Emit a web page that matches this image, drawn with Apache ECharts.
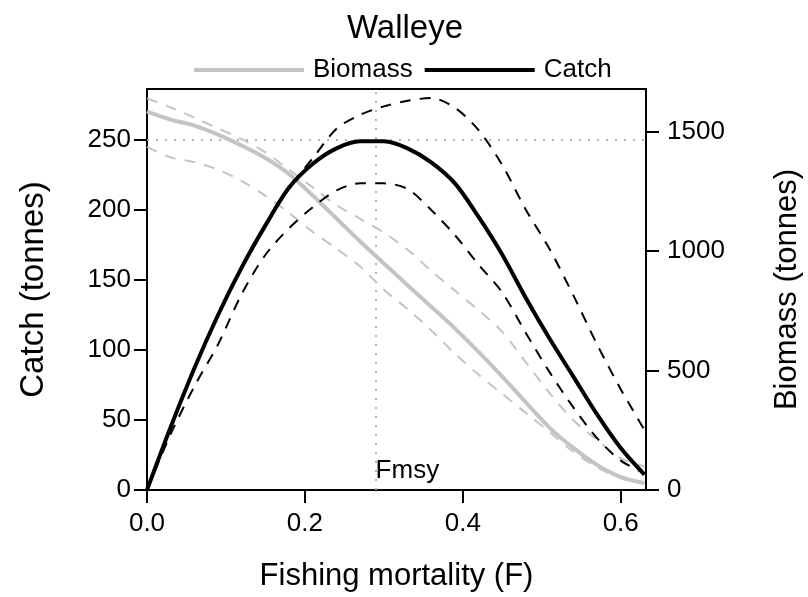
<!DOCTYPE html>
<html>
<head>
<meta charset="utf-8">
<script src="https://cdn.jsdelivr.net/npm/echarts@6/dist/echarts.min.js"></script>
<style>
  html, body { margin: 0; padding: 0; background: #fff; }
  #myChart { width: 808px; height: 597px; }
</style>
</head>
<body>
<div id="myChart"></div>
<script>
// fishing mortality grid
const fValues = [0, 0.03, 0.06, 0.09, 0.12, 0.15, 0.18, 0.21, 0.24, 0.27, 0.30,
  0.33, 0.36, 0.39, 0.42, 0.45, 0.48, 0.51, 0.54, 0.57, 0.60, 0.63]

// catch (tonnes), median and bounds
const catchMid = [0, 45, 87, 125, 159, 189, 216, 233, 244, 249, 249,
  244, 234, 219, 195, 168, 137, 108, 81, 54, 30, 11]
const catchHigh = [0, 45, 88, 126, 160, 190, 216, 237, 258, 268, 274,
  278, 280, 273, 257, 232, 200, 172, 139, 104, 72, 43]
const catchLow = [0, 40, 74, 104, 140, 168, 187, 202, 214, 219, 219,
  215, 200, 182, 161, 141, 112, 84, 59, 37, 21, 12]

// biomass (tonnes), median and bounds
const bioMid = [1583, 1550, 1525, 1487, 1441, 1389, 1322, 1232, 1136, 1040, 948,
  857, 767, 676, 578, 474, 366, 260, 176, 105, 54, 29]
const bioHigh = [1639, 1601, 1558, 1513, 1468, 1413, 1340, 1266, 1192, 1135, 1077,
  1005, 917, 834, 752, 662, 534, 405, 292, 210, 132, 98]
const bioLow = [1436, 1392, 1372, 1340, 1293, 1231, 1159, 1080, 1010, 935, 838,
  757, 668, 570, 482, 402, 322, 242, 160, 95, 50, 30]

// reference points
const fMsy = 0.287
const msy = 250

const xTicks = [0, 0.2, 0.4, 0.6]
const catchTicks = [0, 50, 100, 150, 200, 250]
const bioTicks = [0, 500, 1000, 1500]

const font = "'Liberation Sans', Arial, sans-serif"

function pairs(ys) {
  return fValues.map((f, i) => [f, ys[i]])
}

let myChart = echarts.init(document.getElementById('myChart'))

const dashed = [11, 9]
const tickStyle = { color: '#000', width: 2 }

myChart.setOption({
  animation: false,
  textStyle: { fontFamily: font, color: '#000' },
  title: {
    text: 'Walleye',
    left: 400,
    top: 7,
    textAlign: 'center',
    textStyle: { fontFamily: font, fontSize: 33, fontWeight: 'normal', color: '#000' },
  },
  legend: {
    data: ['Biomass', 'Catch'],
    top: 52,
    left: 189,
    icon: 'rect',
    itemWidth: 110,
    itemHeight: 4,
    itemGap: 12,
    textStyle: { fontFamily: font, fontSize: 26, color: '#000', padding: [0, 0, 0, 4] },
  },
  grid: {
    left: 147,
    right: 162,
    top: 89,
    bottom: 107,
    outerBoundsMode: 'none',
    show: true,
    borderColor: '#000',
    borderWidth: 2,
  },
  xAxis: {
    type: 'value',
    min: 0,
    max: 0.632,
    name: 'Fishing mortality (F)',
    nameLocation: 'middle',
    nameGap: 71,
    nameTextStyle: { fontFamily: font, fontSize: 31, color: '#000' },
    splitLine: { show: false },
    axisLine: { show: true, lineStyle: tickStyle },
    axisTick: { show: true, length: 13, lineStyle: tickStyle, customValues: xTicks },
    axisLabel: {
      fontFamily: font, fontSize: 26, color: '#000', margin: 21,
      customValues: xTicks,
      formatter: (v) => v.toFixed(1),
    },
  },
  yAxis: [
    {
      type: 'value',
      min: 0,
      max: 286.4,
      name: 'Catch (tonnes)',
      nameLocation: 'middle',
      nameGap: 97,
      nameTextStyle: { fontFamily: font, fontSize: 33, color: '#000' },
      splitLine: { show: false },
      axisLine: { show: true, lineStyle: tickStyle },
      axisTick: { show: true, length: 13, lineStyle: tickStyle, customValues: catchTicks },
      axisLabel: { fontFamily: font, fontSize: 26, color: '#000', margin: 16, customValues: catchTicks },
    },
    {
      type: 'value',
      min: 0,
      max: 1678,
      position: 'right',
      name: 'Biomass (tonnes)',
      nameLocation: 'middle',
      nameGap: 126,
      nameRotate: 90,
      nameTextStyle: { fontFamily: font, fontSize: 31, color: '#000' },
      splitLine: { show: false },
      axisLine: { show: true, lineStyle: tickStyle },
      axisTick: { show: true, length: 13, lineStyle: tickStyle, customValues: bioTicks },
      axisLabel: {
        fontFamily: font, fontSize: 26, color: '#000', margin: 21,
        customValues: bioTicks,
        formatter: (v) => String(v),
      },
    },
  ],
  series: [
    {
      name: 'Biomass',
      type: 'line',
      yAxisIndex: 1,
      data: pairs(bioMid),
      symbol: 'none',
      smooth: 0.3,
      lineStyle: { color: '#c4c4c4', width: 4 },
      itemStyle: { color: '#c4c4c4' },
      z: 2,
    },
    {
      name: 'Biomass upper',
      type: 'line',
      yAxisIndex: 1,
      data: pairs(bioHigh),
      symbol: 'none',
      smooth: 0.3,
      lineStyle: { color: '#c4c4c4', width: 2, type: dashed },
      z: 2,
    },
    {
      name: 'Biomass lower',
      type: 'line',
      yAxisIndex: 1,
      data: pairs(bioLow),
      symbol: 'none',
      smooth: 0.3,
      lineStyle: { color: '#c4c4c4', width: 2, type: dashed },
      z: 2,
    },
    {
      name: 'Catch',
      type: 'line',
      yAxisIndex: 0,
      data: pairs(catchMid),
      symbol: 'none',
      smooth: 0.3,
      lineStyle: { color: '#000', width: 4 },
      itemStyle: { color: '#000' },
      z: 4,
      markLine: {
        silent: true,
        symbol: 'none',
        label: { show: false },
        lineStyle: { color: '#b4b4b4', width: 2, type: [2, 7] },
        data: [{ yAxis: msy }, { xAxis: fMsy }],
        z: 1,
      },
      markPoint: {
        silent: true,
        symbol: 'circle',
        symbolSize: 0,
        data: [{ coord: [fMsy, 0] }],
        label: {
          show: true,
          formatter: 'Fmsy',
          position: 'right',
          distance: 2,
          offset: [0, -19],
          fontFamily: font,
          fontSize: 26,
          color: '#000',
        },
      },
    },
    {
      name: 'Catch upper',
      type: 'line',
      yAxisIndex: 0,
      data: pairs(catchHigh),
      symbol: 'none',
      smooth: 0.3,
      lineStyle: { color: '#000', width: 2, type: dashed },
      z: 3,
    },
    {
      name: 'Catch lower',
      type: 'line',
      yAxisIndex: 0,
      data: pairs(catchLow),
      symbol: 'none',
      smooth: 0.3,
      lineStyle: { color: '#000', width: 2, type: dashed },
      z: 3,
    },
  ],
})
</script>
</body>
</html>
